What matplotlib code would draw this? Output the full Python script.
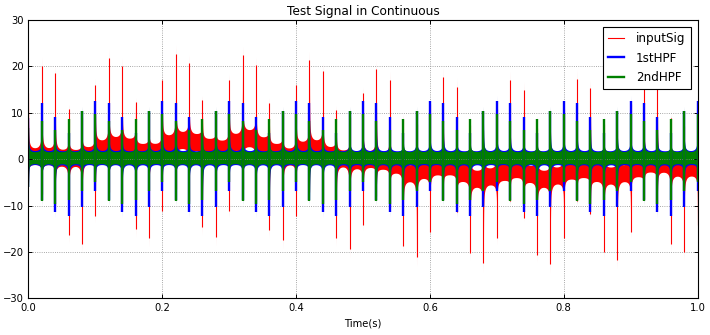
import numpy as np
import matplotlib
matplotlib.use('Agg')
import matplotlib.pyplot as plt

# ---------------- values ----------------
# one pulse every 0.02 s from t=0 to t=1.0 (51 pulses)
pulse_t = np.round(np.arange(51) * 0.02, 2)

# inputSig : top / bottom of each pulse
red_peak = [14.3, 20.1, 18.5, 10.9, 9.0,
            16.0, 21.8, 20.1, 12.3, 9.8,
            17.1, 22.7, 20.8, 12.8, 10.0,
            17.1, 22.5, 20.3, 12.2, 9.8,
            15.9, 21.3, 18.9, 10.6, 9.0,
            14.2, 19.4, 17.1, 8.7, 7.5,
            11.8, 17.8, 15.6, 7.3, 6.3,
            10.8, 17.0, 14.9, 6.8, 5.8,
            10.8, 17.2, 15.3, 7.5, 6.2,
            11.8, 18.3, 16.5, 8.9, 7.2,
            12.5]
red_trough = [-5.0, -7.5, -10.0, -16.4, -18.2,
              -12.2, -7.0, -9.5, -15.1, -17.0,
              -11.2, -6.5, -9.0, -14.6, -16.7,
              -11.2, -6.5, -9.0, -15.3, -17.5,
              -12.2, -7.0, -9.5, -17.0, -19.3,
              -14.1, -8.0, -10.5, -18.8, -21.2,
              -15.7, -8.5, -11.5, -20.2, -22.4,
              -17.0, -9.0, -12.6, -20.6, -22.6,
              -17.0, -9.0, -11.9, -20.0, -21.7,
              -15.7, -8.5, -11.0, -18.3, -20.0,
              -14.1]
# slow wander of the input between pulses (centre of red band, per 0.02 s gap)
red_level = [0.6, 0.6, 0.3, 0.3, 0.9, 2.3, 3.0, 2.7, 1.6, 1.6,
             3.4, 4.1, 3.7, 2.7, 2.3, 3.7, 4.5, 3.0, 1.6, 0.6,
             2.0, 2.3, 0.9, 0.2, -0.2, 0.0, -0.4, -1.2, -3.0, -2.3,
             -1.6, -1.6, -3.0, -4.2, -3.7, -2.8, -2.2, -3.2, -4.2, -3.5,
             -2.5, -2.2, -3.0, -3.5, -3.0, -2.0, -1.0, -1.0, -1.8, -1.8]

# filtered outputs repeat every 5 pulses (first pulse differs: filter start)
hpf1_peak_cycle = [12.6, 12.0, 9.1, 5.7, 10.4]
hpf1_trough_cycle = [-6.8, -8.9, -11.5, -12.2, -10.4]
hpf2_peak_cycle = [9.8, 8.2, 6.2, 8.6, 10.4]
hpf2_trough_cycle = [-5.0, -9.1, -9.7, -8.8, -6.8]
hpf1_start = (8.9, -6.1)
hpf2_start = (6.8, -6.1)

# ---------------- envelopes of the fast oscillation ----------------
n_per = 200
i = np.arange(50 * n_per + 1)
t = i / (50.0 * n_per)
dt = t[1]
seg = np.minimum(i // n_per, 49)
prev = i // n_per
nxt = np.minimum(prev + 1, 50)
d_prev = (i - prev * n_per) * dt
d_next = (nxt * n_per - i) * dt
w = 0.0004      # sharp part of each pulse
tau = 0.003     # slow ringing that bends the band near pulses
ring = 0.12


def tail(d):
    return 1.0 / (1.0 + d / w) ** 2 + ring * np.exp(-d / tau)


def band(peaks, troughs, hi, lo):
    peaks = np.asarray(peaks)
    troughs = np.asarray(troughs)
    k_prev = tail(d_prev)
    k_next = np.where(prev < 50, tail(d_next), 0.0)
    up = hi + (peaks[prev] - hi) * k_prev + (peaks[nxt] - hi) * k_next
    dn = lo + (troughs[prev] - lo) * k_prev + (troughs[nxt] - lo) * k_next
    return up, dn


def cycle(vals, start):
    v = np.tile(vals, 11)[:51]
    v[0] = start
    return v


hpf1_peak = cycle(hpf1_peak_cycle, hpf1_start[0])
hpf1_trough = cycle(hpf1_trough_cycle, hpf1_start[1])
hpf2_peak = cycle(hpf2_peak_cycle, hpf2_start[0])
hpf2_trough = cycle(hpf2_trough_cycle, hpf2_start[1])

lvl = np.asarray(red_level)[seg]
series = [
    ("inputSig", 'r', 0.8, red_peak, red_trough, lvl + 1.7, lvl - 1.7),
    ("1stHPF", 'b', 1.7, hpf1_peak, hpf1_trough, 1.75, -1.1),
    ("2ndHPF", 'g', 1.7, hpf2_peak, hpf2_trough, 1.55, -0.9),
]

# ---------------- plot ----------------
fig = plt.figure(figsize=(7.1, 3.35), dpi=100, facecolor='white')
ax = fig.add_axes([0.0401, 0.1096, 0.9423, 0.8307])
for name, col, lw, pk, tr, hi, lo in series:
    up, dn = band(pk, tr, hi, lo)
    ax.fill_between(t, dn, up, color=col, lw=0)
    ax.vlines(pulse_t, tr, pk, color=col, lw=lw)
    ax.plot([], [], color=col, lw=lw, label=name)

ax.set_xlim(0, 1)
ax.set_ylim(-30, 30)
ax.set_xticks([0.0, 0.2, 0.4, 0.6, 0.8, 1.0])
ax.set_yticks([-30, -20, -10, 0, 10, 20, 30])
ax.tick_params(labelsize=7.2, direction='in', top=True, right=True, length=3, width=0.7, pad=3.5)
for s in ax.spines.values():
    s.set_linewidth(0.8)
ax.grid(True, color='0.55', linestyle=':', linewidth=0.6)
ax.set_title("Test Signal in Continuous", fontsize=8.7, pad=3.5)
ax.set_xlabel("Time(s)", fontsize=7.2, labelpad=4)
leg = ax.legend(loc='upper right', fontsize=8.6, handlelength=1.3, handletextpad=1.05,
                labelspacing=0.55, fancybox=False, framealpha=1, borderaxespad=0.55,
                borderpad=0.45)
leg.get_frame().set_edgecolor('black')
leg.get_frame().set_linewidth(0.8)
fig.savefig("out.png", dpi=100, facecolor='white')
